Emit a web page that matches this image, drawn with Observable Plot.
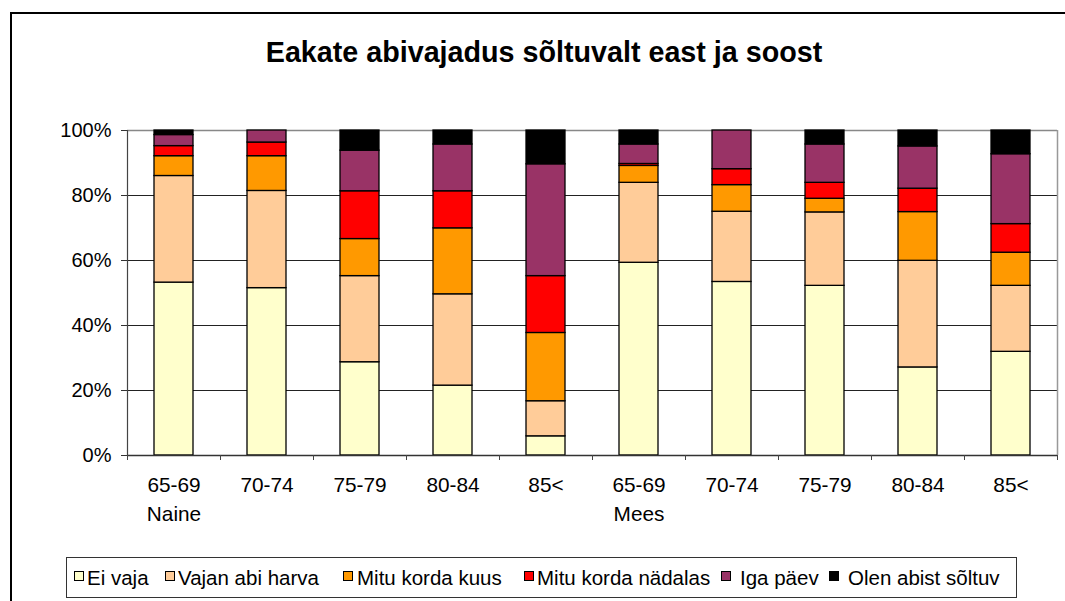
<!DOCTYPE html>
<html>
<head>
<meta charset="utf-8">
<script src="https://cdn.jsdelivr.net/npm/d3@7"></script>
<script src="https://cdn.jsdelivr.net/npm/@observablehq/plot@0.6"></script>
<style>
  html, body { margin: 0; padding: 0; background: #fff; overflow: hidden; }
  body { width: 1065px; height: 601px; position: relative; font-family: "Liberation Sans", Arial, sans-serif; }
  #frame { position: absolute; left: 10px; top: 12px; width: 1080px; height: 620px; border: 2.5px solid #000; box-sizing: border-box; }
  #title { position: absolute; left: 0; width: 1088px; top: 38px; line-height: 28px; text-align: center; font-size: 28.7px; font-weight: bold; color: #000; }
  #chart { position: absolute; left: 0; top: 0; }
  #legend { position: absolute; left: 66px; top: 557px; width: 951px; height: 41px; border: 1.5px solid #333; box-sizing: border-box; }
  .sw { position: absolute; top: 13px; width: 8px; height: 8px; border: 1.3px solid #000; }
  .lt { position: absolute; top: 10px; line-height: 20px; font-size: 20.5px; color: #000; white-space: nowrap; }
</style>
</head>
<body>
<div id="frame"></div>
<div id="title">Eakate abivajadus sõltuvalt east ja soost</div>
<div id="chart"></div>
<div id="legend"></div>
<script>
const ageGroups = ["65-69", "70-74", "75-79", "80-84", "85<"];
const genders = ["Naine", "Mees"];
const series = ["Ei vaja", "Vajan abi harva", "Mitu korda kuus", "Mitu korda nädalas", "Iga päev", "Olen abist sõltuv"];
const colors = ["#FFFFCC", "#FFCC99", "#FF9900", "#FF0000", "#993366", "#000000"];
const yTicks = [0, 20, 40, 60, 80, 100];

// values in %, bars: Naine 65-69 .. 85<, Mees 65-69 .. 85<
const eiVaja        = [53.2, 51.5, 28.7, 21.5,  5.9, 59.3, 53.4, 52.2, 27.1, 31.9];
const vajanAbiHarva = [32.8, 29.9, 26.5, 28.1, 10.8, 24.6, 21.6, 22.6, 32.8, 20.3];
const mituKordaKuus = [ 6.1, 10.7, 11.4, 20.3, 21.0,  5.2,  8.2,  4.2, 15.0, 10.2];
const mituKordaNad  = [ 3.1,  4.2, 14.7, 11.4, 17.5,  0.6,  4.9,  4.9,  7.2,  8.8];
const igaPaev       = [ 3.4,  3.7, 12.5, 14.4, 34.4,  6.0, 11.9, 11.8, 13.0, 21.5];
const olenSoltuv    = [ 1.4,  0.0,  6.2,  4.3, 10.4,  4.3,  0.0,  4.3,  4.9,  7.3];

const seriesValues = [eiVaja, vajanAbiHarva, mituKordaKuus, mituKordaNad, igaPaev, olenSoltuv];

// build table
const bars = [];
genders.forEach((g, gi) => ageGroups.forEach((a, ai) => bars.push({gender: g, age: a, i: gi * ageGroups.length + ai})));
const rows = [];
bars.forEach(b => {
  let acc = 0;
  series.forEach((s, si) => {
    const v = seriesValues[si][b.i];
    rows.push({i: b.i, series: s, y1: acc, y2: acc + v, x1: b.i, x2: b.i + 1});
    acc += v;
  });
});
const labels = bars.map(b => ({x: b.i + 0.5, age: b.age}));
const groupLabels = genders.map((g, gi) => ({x: gi * ageGroups.length + 0.5, gender: g}));

const chart = Plot.plot({
  width: 1065,
  height: 540,
  marginTop: 130,
  marginBottom: 85,
  marginLeft: 127,
  marginRight: 8,
  style: {fontFamily: "Liberation Sans, Arial, sans-serif", fontSize: "20px", color: "#000", background: "transparent"},
  x: {domain: [0, bars.length], axis: null},
  y: {domain: [0, 100], axis: null},
  color: {domain: series, range: colors},
  marks: [
    Plot.ruleY(yTicks.filter(t => t > 0 && t < 100), {stroke: "#222", strokeWidth: 1}),
    Plot.ruleY([100], {stroke: "#888", strokeWidth: 1.5}),
    Plot.ruleX([bars.length], {stroke: "#999", strokeWidth: 1.5}),
    Plot.rectY(rows.filter(r => r.y2 > r.y1), {x1: "x1", x2: "x2", y1: "y1", y2: "y2", fill: "series", stroke: "#000", strokeWidth: 1.3, insetLeft: 27, insetRight: 27}),
    Plot.ruleX([0], {stroke: "#444", strokeWidth: 1.2}),
    Plot.ruleY([0], {stroke: "#333", strokeWidth: 1.5}),
    Plot.axisY({ticks: yTicks, tickFormat: d => d + "%", tickSize: 6, tickPadding: 10, fontSize: 20, stroke: "#333"}),
    Plot.axisX({ticks: d3.range(0, bars.length + 1), tickFormat: () => "", tickSize: 5, stroke: "#444"}),
    Plot.text(labels, {x: "x", y: () => 0, text: "age", dy: 30, fontSize: 20.8, lineAnchor: "middle"}),
    Plot.text(groupLabels, {x: "x", y: () => 0, text: "gender", dy: 59, fontSize: 20.8, lineAnchor: "middle"})
  ]
});
document.getElementById("chart").appendChild(chart);

// legend layout (pixel offsets inside the legend box)
const swatchLeft = [7, 98, 276, 457, 654, 762];
const textLeft = [20, 111, 290, 470, 673, 781];
const legend = document.getElementById("legend");
series.forEach((s, si) => {
  const sw = document.createElement("div");
  sw.className = "sw";
  sw.style.left = swatchLeft[si] + "px";
  sw.style.background = colors[si];
  const t = document.createElement("div");
  t.className = "lt";
  t.style.left = textLeft[si] + "px";
  t.textContent = s;
  legend.appendChild(sw);
  legend.appendChild(t);
});
</script>
</body>
</html>
